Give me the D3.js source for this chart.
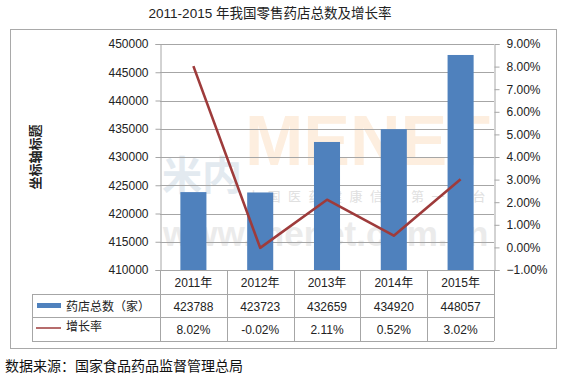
<!DOCTYPE html>
<html><head><meta charset="utf-8">
<script src="https://cdn.jsdelivr.net/npm/d3@7"></script>
<style>
html,body{margin:0;padding:0;background:#fff;}
text{font-family:"Liberation Sans","Noto Sans CJK SC",sans-serif;}
</style></head>
<body><svg id="c" width="563" height="380"></svg>
<script>
const years = ["2011年","2012年","2013年","2014年","2015年"];
const stores = [423788, 423723, 432659, 434920, 448057];
const rates = [8.02, -0.02, 2.11, 0.52, 3.02];
const rateLabels = ["8.02%","-0.02%","2.11%","0.52%","3.02%"];
const leftTicks = [410000,415000,420000,425000,430000,435000,440000,445000,450000];
const rightTicks = [-1,0,1,2,3,4,5,6,7,8,9];
const seriesNames = ["药店总数（家）","增长率"];
const titleText = "2011-2015 年我国零售药店总数及增长率";
const axisTitle = "坐标轴标题";
const sourceText = "数据来源：国家食品药品监督管理总局";
const watermarkTexts = ["米内","MENET","中国医药健康信息第一平台","www.menet.com.cn"];

const svg = d3.select("#c");
const L = 160, R = 494, T = 44, B = 270;
const gridC = "#a6a6a6", barC = "#4F81BD", lineC = "#9E3B3B", txt = "#222";

svg.append("rect").attr("x",10.5).attr("y",29.5).attr("width",546).attr("height",319)
  .attr("fill","#fff").attr("stroke","#a9a9a9");

// faint watermark, kept inside the plot so it does not cover the axis labels
const wm = svg.append("g").attr("pointer-events","none");
wm.append("text").attr("x",162).attr("y",190).attr("font-size",40).attr("font-weight","bold")
  .attr("fill","#e3eaf0").style("font-family","Noto Sans CJK SC").text(watermarkTexts[0]);
wm.append("text").attr("x",245).attr("y",165).attr("font-size",70).attr("font-weight","bold")
  .attr("fill","#fdeedf").text(watermarkTexts[1]);
wm.append("text").attr("x",247).attr("y",201).attr("font-size",13).attr("letter-spacing",7.5)
  .attr("fill","#e0e0e0").style("font-family","Noto Sans CJK SC").text(watermarkTexts[2]);
wm.append("text").attr("x",163).attr("y",246).attr("font-size",35).attr("font-weight","bold")
  .attr("fill","#ebebeb").text(watermarkTexts[3]);

const x = d3.scaleBand().domain(years).range([L,R]).paddingInner(0.61).paddingOuter(0.305);
const xc = d3.scaleBand().domain(years).range([L,R]).padding(0);
const yL = d3.scaleLinear().domain([410000,450000]).range([B,T]);
const yR = d3.scaleLinear().domain([-1,9]).range([B,T]);

// gridlines
svg.append("g").selectAll("line").data(leftTicks).join("line")
  .attr("x1",L).attr("x2",R).attr("y1",d=>Math.round(yL(d))+0.5).attr("y2",d=>Math.round(yL(d))+0.5)
  .attr("stroke",gridC);

// bars
svg.append("g").selectAll("rect").data(stores).join("rect")
  .attr("x",(d,i)=>x(years[i])).attr("width",x.bandwidth())
  .attr("y",d=>yL(d)).attr("height",d=>B-yL(d)).attr("fill",barC);

// line
const line = d3.line().x((d,i)=>x(years[i])+x.bandwidth()/2).y(d=>yR(d));
svg.append("path").datum(rates).attr("d",line).attr("fill","none")
  .attr("stroke",lineC).attr("stroke-width",2.6).attr("stroke-linejoin","round");

// axes
const axL = svg.append("g").attr("transform",`translate(${L+0.5},0)`)
  .call(d3.axisLeft(yL).tickValues(leftTicks).tickSize(5).tickPadding(7).tickFormat(d3.format("d")));
const axR = svg.append("g").attr("transform",`translate(${R+0.5},0)`)
  .call(d3.axisRight(yR).tickValues(rightTicks).tickSize(5).tickPadding(7).tickFormat(d=>d3.format(".2f")(d)+"%"));
[axL,axR].forEach(a=>{
  a.select(".domain").attr("stroke",gridC);
  a.selectAll(".tick line").attr("stroke",gridC);
  a.selectAll(".tick text").attr("font-size",12).attr("fill",txt)
   .style("font-family","'Liberation Sans',sans-serif");
});

// data table
const rowY = [270, 294, 317, 341];
const tb = svg.append("g").attr("stroke",gridC).attr("fill","none");
tb.append("line").attr("x1",L).attr("x2",R).attr("y1",rowY[0]+0.5).attr("y2",rowY[0]+0.5);
[1,2,3].forEach(k=>tb.append("line").attr("x1",32).attr("x2",R).attr("y1",rowY[k]+0.5).attr("y2",rowY[k]+0.5));
tb.append("line").attr("x1",32.5).attr("x2",32.5).attr("y1",rowY[1]).attr("y2",rowY[3]);
years.forEach(c=>tb.append("line").attr("x1",Math.round(xc(c))+0.5).attr("x2",Math.round(xc(c))+0.5).attr("y1",rowY[0]).attr("y2",rowY[3]));
tb.append("line").attr("x1",R+0.5).attr("x2",R+0.5).attr("y1",rowY[0]).attr("y2",rowY[3]);

const cellText = (arr, yc) => svg.append("g").selectAll("text").data(arr).join("text")
  .attr("x",(d,i)=>xc(years[i])+xc.bandwidth()/2).attr("y",yc).attr("dy","0.35em")
  .attr("text-anchor","middle").attr("font-size",12).attr("fill",txt).text(d=>d);
cellText(years,(rowY[0]+rowY[1])/2+1);
cellText(stores,(rowY[1]+rowY[2])/2+1);
cellText(rateLabels,(rowY[2]+rowY[3])/2+1);

// legend keys in table
svg.append("rect").attr("x",37).attr("y",303).attr("width",24).attr("height",5).attr("fill",barC);
svg.append("line").attr("x1",36).attr("x2",61).attr("y1",328).attr("y2",328).attr("stroke",lineC).attr("stroke-width",1.5);
svg.append("text").attr("x",66).attr("y",(rowY[1]+rowY[2])/2+1).attr("dy","0.35em")
  .attr("font-size",12).attr("fill",txt).text(seriesNames[0]);
svg.append("text").attr("x",66).attr("y",(rowY[2]+rowY[3])/2-2).attr("dy","0.35em")
  .attr("font-size",12).attr("fill",txt).text(seriesNames[1]);

// title
svg.append("text").attr("x",270).attr("y",13).attr("dy","0.35em").attr("text-anchor","middle")
  .attr("font-size",13.5).attr("fill",txt).text(titleText);

// axis title
svg.append("text").attr("transform","translate(35,157) rotate(-90)").attr("text-anchor","middle")
  .attr("dy","0.35em").attr("font-size",13).attr("font-weight","bold").attr("fill",txt).text(axisTitle);

// source
svg.append("text").attr("x",5).attr("y",371).attr("font-size",14).attr("fill","#111").text(sourceText);
</script></body></html>
